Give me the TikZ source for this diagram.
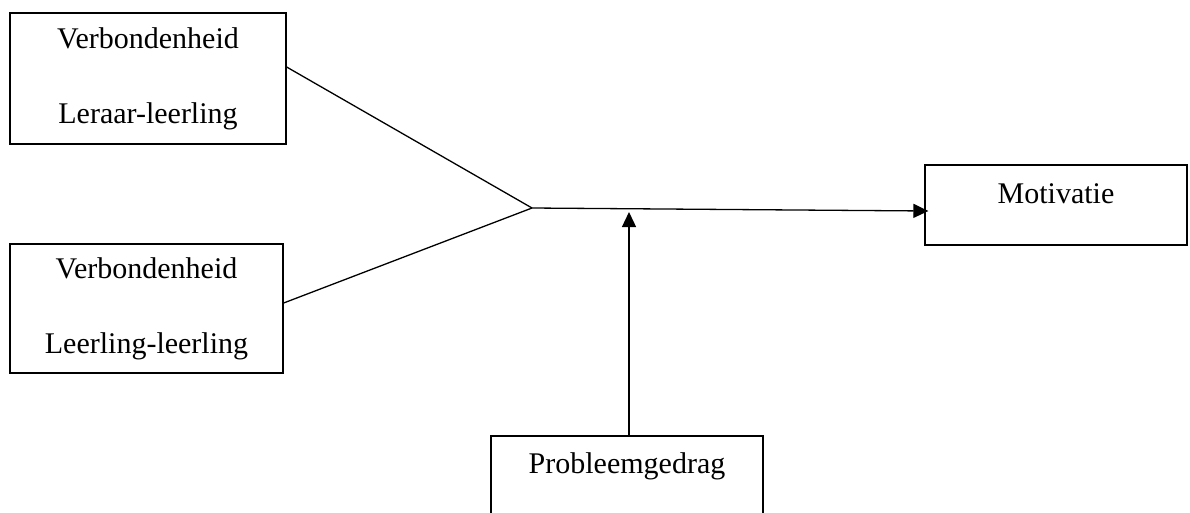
\documentclass[tikz,border=0pt]{standalone}
\usepackage{fontspec}
\setmainfont{Liberation Serif}
\usetikzlibrary{arrows.meta}
\tikzset{
  box/.style={draw,line width=1.3pt,inner sep=0pt,align=center,font=\fontsize{30}{75}\selectfont},
  link/.style={line width=1.3pt},
  arr/.style={line width=1.3pt,-{Triangle[length=15pt,width=14pt]}}
}
\begin{document}
\begin{tikzpicture}[x=1pt,y=-1pt]
\useasboundingbox (0,0) rectangle (1190,512);
\node[box,minimum width=276pt,minimum height=131pt] (ll) at (148,78.5) {Verbondenheid\\Leraar-leerling};
\node[box,minimum width=273pt,minimum height=129pt] (el) at (146.5,308.5) {Verbondenheid\\Leerling-leerling};
\node[box,minimum width=262pt,text height=38pt,text depth=42pt] (mot) at (1056,205) {Motivatie};
\node[box,minimum width=272pt,text height=37pt,text depth=47pt] (prob) at (627,478) {Probleemgedrag};
\coordinate (hub) at (532,208);
\coordinate (mod) at (629,212);
\draw[link] ([yshift=11.5pt]ll.east) -- (hub);
\draw[link] ([yshift=5.5pt]el.east) -- (hub);
\draw[arr] (hub) -- ([xshift=4pt,yshift=-6pt]mot.west);
\draw[arr] (prob.north -| mod) -- (mod);
\end{tikzpicture}
\end{document}
